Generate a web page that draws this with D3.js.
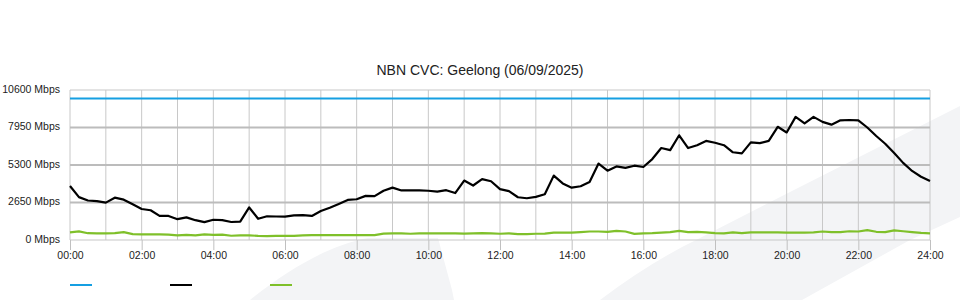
<!DOCTYPE html>
<html>
<head>
<meta charset="utf-8">
<script src="https://cdn.jsdelivr.net/npm/d3@7"></script>
<style>
body { margin: 0; background: #fff; }
svg { display: block; font-family: "Liberation Sans", Arial, sans-serif; }
</style>
</head>
<body>
<div class="chart"></div>
<script>
'use strict';
const title = "NBN CVC: Geelong (06/09/2025)";
const stepMinutes = 15; // one reading every 15 min, 00:00 .. 24:00
const capacity = 10000; // Mbps

// total CVC traffic (Mbps)
const traffic = [
    3816, 3030, 2790, 2750, 2640, 2990, 2850, 2520, 2190, 2100,
    1700, 1700, 1470, 1600, 1400, 1260, 1430, 1400, 1272, 1300,
    2300, 1500, 1680, 1660, 1650, 1740, 1760, 1700, 2050, 2280,
    2550, 2830, 2880, 3120, 3100, 3480, 3700, 3500, 3500, 3500,
    3480, 3420, 3520, 3320, 4200, 3850, 4300, 4150, 3600, 3450,
    3020, 2950, 3050, 3230, 4550, 4000, 3700, 3800, 4100, 5400,
    4900, 5200, 5100, 5250, 5160, 5720, 6500, 6350, 7400, 6500,
    6700, 7000, 6870, 6700, 6200, 6120, 6900, 6850, 7000, 8000,
    7600, 8700, 8240, 8700, 8350, 8150, 8460, 8480, 8450, 7950,
    7350, 6800, 6150, 5450, 4880, 4470, 4170
];
// upload traffic (Mbps)
const upload = [
    540, 610, 480, 470, 470, 480, 560, 420, 400, 400,
    400, 380, 330, 360, 330, 400, 360, 380, 300, 330,
    330, 290, 280, 290, 300, 290, 320, 350, 350, 350,
    350, 350, 340, 340, 350, 450, 470, 470, 440, 470,
    470, 470, 470, 470, 450, 470, 480, 470, 440, 470,
    420, 420, 440, 450, 520, 520, 520, 560, 600, 600,
    580, 650, 600, 430, 470, 480, 520, 560, 650, 560,
    580, 540, 480, 470, 540, 480, 540, 540, 540, 540,
    520, 530, 520, 540, 600, 560, 560, 620, 600, 700,
    580, 560, 680, 620, 560, 500, 470
];
const yTicks = [0, 2650, 5300, 7950, 10600];
const xTickHours = [0, 2, 4, 6, 8, 10, 12, 14, 16, 18, 20, 22, 24];
const colors = { capacity: "#159fe2", traffic: "#000000", upload: "#7fc02a" };

(() => {
    const width = 960, height = 300;
    const margin = { top: 90, right: 30, bottom: 60, left: 70 };

    const svg = d3.select(".chart").append("svg")
        .attr("width", width)
        .attr("height", height);

    // faint watermark shapes behind the chart
    const wm = svg.append("g").attr("fill", "#f3f4f6");
    wm.append("path").attr("d", "M250,300 C290,268 330,245 368,238 L438,238 L452,290 L454,300 Z");
    wm.append("path").attr("d", "M600,300 Q650,262 700,238 L790,192 L960,106 L960,217 L910,240 L802,300 Z");

    const x = d3.scaleLinear()
        .domain([0, 24])
        .range([margin.left, width - margin.right]);
    const y = d3.scaleLinear()
        .domain([0, 10600])
        .range([height - margin.bottom, margin.top]);
    const hour = i => i * stepMinutes / 60;

    // hourly vertical grid
    svg.append("g")
        .selectAll("line")
        .data(d3.range(0, 25))
        .enter().append("line")
            .attr("x1", d => x(d))
            .attr("x2", d => x(d))
            .attr("y1", y(10600))
            .attr("y2", y(0))
            .attr("stroke", "#c8c8c8")
            .attr("stroke-width", 1);

    // horizontal grid
    svg.append("g")
        .selectAll("line")
        .data(yTicks)
        .enter().append("line")
            .attr("x1", x(0))
            .attr("x2", x(24))
            .attr("y1", d => y(d))
            .attr("y2", d => y(d))
            .attr("stroke", d => (d == 0 || d == 10600) ? "#c8c8c8" : "#bcbcbc")
            .attr("stroke-width", d => (d == 0 || d == 10600) ? 1.2 : 1.8);

    // x axis
    const xAxis = svg.append("g")
        .attr("transform", `translate(0, ${y(0)})`)
        .call(d3.axisBottom(x)
            .tickValues(xTickHours)
            .tickSize(10)
            .tickPadding(2)
            .tickFormat(h => String(h).padStart(2, "0") + ":00"));
    xAxis.select(".domain").remove();
    xAxis.selectAll("line").attr("stroke", "#c0c0c0");
    xAxis.selectAll("text")
        .attr("fill", "#222")
        .style("font-size", "10.5px")
        .style("font-family", "Liberation Sans, Arial, sans-serif");

    // y axis
    const yAxis = svg.append("g")
        .attr("transform", `translate(${x(0)}, 0)`)
        .call(d3.axisLeft(y)
            .tickValues(yTicks)
            .tickSize(0)
            .tickPadding(10)
            .tickFormat(d => d + " Mbps"));
    yAxis.select(".domain").remove();
    yAxis.selectAll("text")
        .attr("fill", "#222")
        .attr("dy", "0.2em")
        .style("font-size", "10.5px")
        .style("font-family", "Liberation Sans, Arial, sans-serif");

    svg.append("text")
        .attr("x", width / 2)
        .attr("y", 75)
        .attr("text-anchor", "middle")
        .attr("fill", "#222")
        .style("font-size", "14px")
        .text(title);

    const line = d3.line()
        .x((d, i) => x(hour(i)))
        .y(d => y(d));

    svg.append("path")
        .datum(upload)
        .attr("fill", "none")
        .attr("stroke", colors.upload)
        .attr("stroke-width", 2.2)
        .attr("stroke-linejoin", "round")
        .attr("d", line);

    svg.append("path")
        .datum(traffic)
        .attr("fill", "none")
        .attr("stroke", colors.traffic)
        .attr("stroke-width", 2.2)
        .attr("stroke-linejoin", "round")
        .attr("d", line);

    svg.append("line")
        .attr("x1", x(0))
        .attr("x2", x(24))
        .attr("y1", y(capacity))
        .attr("y2", y(capacity))
        .attr("stroke", colors.capacity)
        .attr("stroke-width", 2);

    // legend: swatches only, no labels
    const legend = svg.append("g").attr("transform", "translate(70, 285)");
    [colors.capacity, colors.traffic, colors.upload].forEach((c, i) => {
        legend.append("line")
            .attr("x1", i * 100)
            .attr("x2", i * 100 + 22)
            .attr("stroke", c)
            .attr("stroke-width", 2);
    });
})();
</script>
</body>
</html>
